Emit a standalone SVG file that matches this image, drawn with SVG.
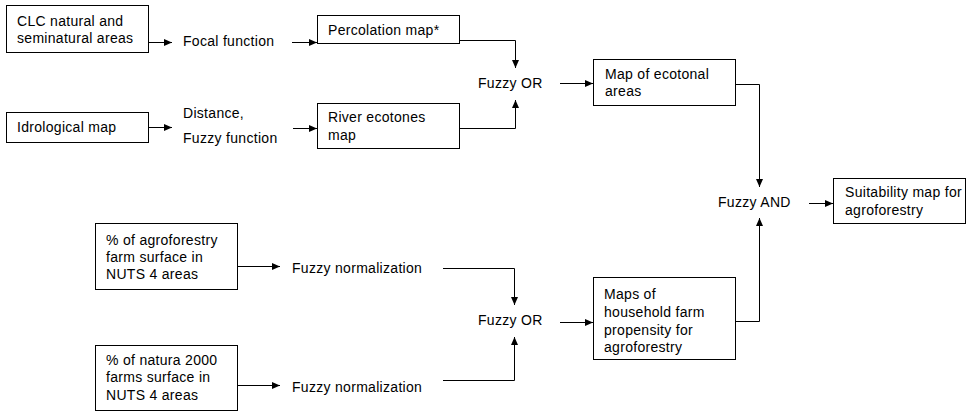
<svg xmlns="http://www.w3.org/2000/svg" width="967" height="413" viewBox="0 0 967 413">
<defs>
<marker id="ah" markerUnits="userSpaceOnUse" markerWidth="8" markerHeight="8" refX="8" refY="4" orient="auto">
<path d="M0,0.5 L8,4 L0,7.5 z" fill="#000"/>
</marker>
</defs>
<style>
.box{fill:#fff;stroke:#000;stroke-width:1}
text{font-family:"Liberation Sans",Arial,sans-serif;font-size:14px;letter-spacing:0.3px;fill:#000}
.c{fill:none;stroke:#000;stroke-width:1;marker-end:url(#ah)}
</style>
<rect width="967" height="413" fill="#fff"/>
<g id="clc"><rect class="box" x="6.5" y="5.5" width="142" height="47"/><text x="17" y="26">CLC natural and</text><text x="17" y="43">seminatural areas</text></g>
<g id="focal"><text x="183" y="46">Focal function</text></g>
<g id="idro"><rect class="box" x="6.5" y="112.5" width="142" height="30"/><text x="17" y="132">Idrological map</text></g>
<g id="distance"><text x="183" y="118">Distance,</text><text x="183" y="143">Fuzzy function</text></g>
<g id="percolation"><rect class="box" x="317.5" y="15.5" width="142" height="28"/><text x="328" y="35">Percolation map*</text></g>
<g id="river"><rect class="box" x="317.5" y="103.5" width="142" height="45"/><text x="328" y="122">River ecotones</text><text x="328" y="140">map</text></g>
<g id="fuzzyor1"><text x="478" y="88">Fuzzy OR</text></g>
<g id="ecotonal"><rect class="box" x="593.5" y="59.5" width="142" height="46"/><text x="605" y="79">Map of ecotonal</text><text x="605" y="96">areas</text></g>
<g id="fuzzyand"><text x="718" y="207">Fuzzy AND</text></g>
<g id="suitability"><rect class="box" x="833.5" y="178.5" width="132" height="45"/><text x="845" y="197">Suitability map for</text><text x="845" y="215">agroforestry</text></g>
<g id="agro"><rect class="box" x="95.5" y="223.5" width="142" height="66"/><text x="106" y="245">% of agroforestry</text><text x="106" y="262">farm surface in</text><text x="106" y="279">NUTS 4 areas</text></g>
<g id="norm1"><text x="292" y="273">Fuzzy normalization</text></g>
<g id="natura"><rect class="box" x="95.5" y="345.5" width="142" height="65"/><text x="106" y="365">% of natura 2000</text><text x="106" y="382">farms surface in</text><text x="106" y="400">NUTS 4 areas</text></g>
<g id="norm2"><text x="292" y="392">Fuzzy normalization</text></g>
<g id="fuzzyor2"><text x="478" y="325">Fuzzy OR</text></g>
<g id="maps"><rect class="box" x="593.5" y="277.5" width="142" height="82"/><text x="604" y="299">Maps of</text><text x="604" y="317">household farm</text><text x="604" y="335">propensity for</text><text x="604" y="352">agroforestry</text></g>
<g id="connectors">
<path class="c" d="M148,42.5 H172"/>
<path class="c" d="M292,42.5 H317"/>
<path class="c" d="M148,127.5 H172"/>
<path class="c" d="M293,128.5 H317"/>
<path class="c" d="M459,40.5 H515.5 V68"/>
<path class="c" d="M459,128.5 H515.5 V100"/>
<path class="c" d="M560,83.5 H593"/>
<path class="c" d="M735,84.5 H759.5 V187"/>
<path class="c" d="M809,203.5 H833"/>
<path class="c" d="M735,321.5 H759.5 V218"/>
<path class="c" d="M237,266.5 H280"/>
<path class="c" d="M237,385.5 H280"/>
<path class="c" d="M443,268.5 H514.5 V305"/>
<path class="c" d="M443,380.5 H514.5 V337"/>
<path class="c" d="M560,322.5 H593"/>
</g>
</svg>
